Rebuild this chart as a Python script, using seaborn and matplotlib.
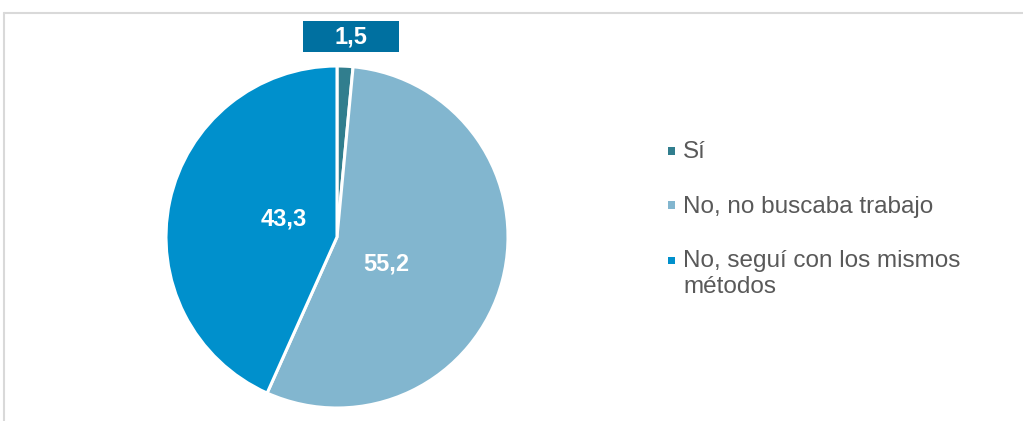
import matplotlib
matplotlib.use("Agg")
import matplotlib.pyplot as plt
from matplotlib.patches import Rectangle
from matplotlib.lines import Line2D
import seaborn as sns

# Data
categories = ["Sí", "No, no buscaba trabajo", "No, seguí con los mismos\nmétodos"]
values = [1.5, 55.2, 43.3]
colors = ["#317E8E", "#82B6CF", "#0090CC"]
label_box_color = "#0070A0"

sns.set_theme(style="white")
plt.rcParams["font.family"] = ["Liberation Sans", "DejaVu Sans"]
palette = sns.color_palette(colors)

W, H = 1023, 421
fig = plt.figure(figsize=(W / 100, H / 100), dpi=100)

# Pie axes: centre (337, 237) px, radius 171 px
cx, cy, r = 337, 237, 171
ax = fig.add_axes([(cx - r) / W, (H - cy - r) / H, 2 * r / W, 2 * r / H])
wedges, _ = ax.pie(values, colors=palette, startangle=90, counterclock=False,
                   wedgeprops=dict(edgecolor="white", linewidth=2.2))
ax.set_aspect("equal")
ax.set_xlim(-1, 1)
ax.set_ylim(-1, 1)
ax.axis("off")

fmt = lambda v: f"{v:.1f}".replace(".", ",")

# Value labels inside the two large slices
ax.text(-0.31, 0.105, fmt(values[2]), color="white", fontsize=17, fontweight="bold",
        ha="center", va="center")
ax.text(0.29, -0.155, fmt(values[1]), color="white", fontsize=17, fontweight="bold",
        ha="center", va="center")

# Small slice label in a filled box above the pie
fig.add_artist(Rectangle((303 / W, 1 - 52 / H), 96 / W, 31 / H,
                         transform=fig.transFigure, facecolor=label_box_color,
                         edgecolor="none"))
fig.text(351 / W, 1 - 37 / H, fmt(values[0]), color="white", fontsize=17,
         fontweight="bold", ha="center", va="center")

# Legend
legend_y = [151, 205, 260]
for lab, col, y in zip(categories, colors, legend_y):
    fig.add_artist(Rectangle((668 / W, 1 - (y + 3.5) / H), 7 / W, 7 / H,
                             transform=fig.transFigure, facecolor=col, edgecolor="none"))
    fig.text(683 / W, 1 - (y - 9.5) / H, lab, color="#595959", fontsize=17.5,
             ha="left", va="top", linespacing=1.2)

# Outer frame (top and left edges visible)
fig.add_artist(Line2D([4 / W, 1.0], [1 - 13 / H, 1 - 13 / H], transform=fig.transFigure,
                      color="#D9D9D9", linewidth=1.5))
fig.add_artist(Line2D([4 / W, 4 / W], [0, 1 - 13 / H], transform=fig.transFigure,
                      color="#D9D9D9", linewidth=1.5))

fig.savefig("out.png", dpi=100, facecolor="white")
